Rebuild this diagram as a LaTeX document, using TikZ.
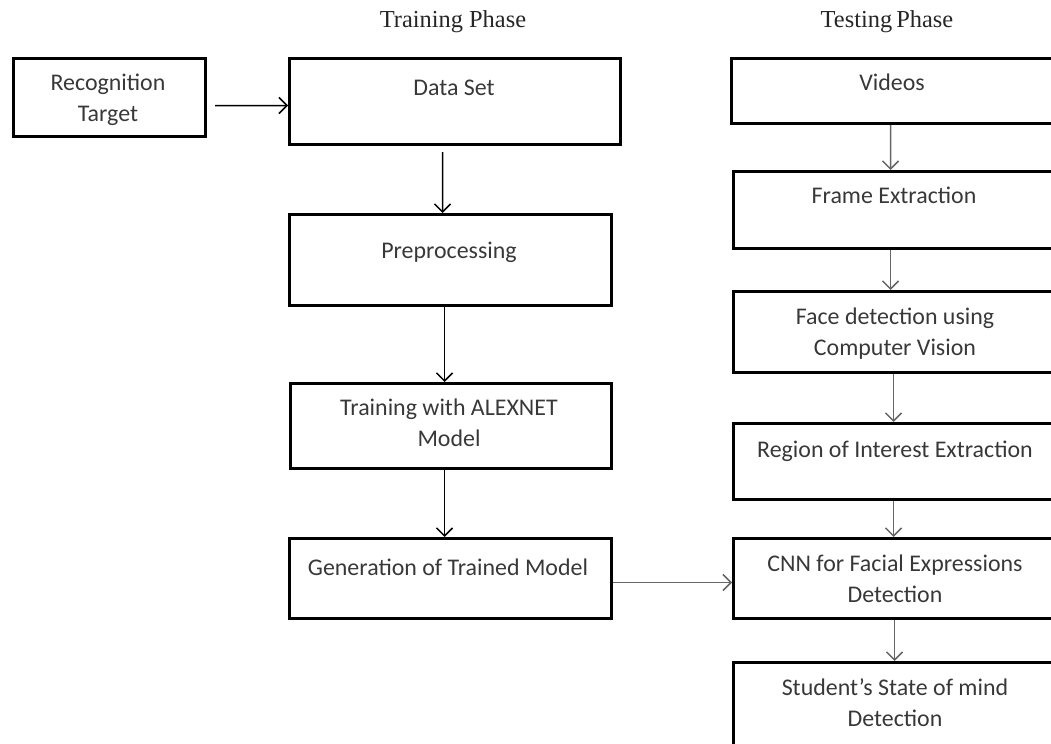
\documentclass[tikz,border=0pt]{standalone}
\usepackage{fontspec}
\setmainfont{Carlito}
\newfontfamily\titlefont{Liberation Serif}
\usetikzlibrary{arrows.meta,calc}
\begin{document}
\begin{tikzpicture}[x=1bp,y=-1bp,
  box/.style={draw=black, line width=3bp, rectangle, inner sep=0pt, anchor=north west},
  txt/.style={font=\fontsize{24}{31}\selectfont, text=black!78, align=center, inner sep=0pt},
  ttl/.style={font=\titlefont\fontsize{24.5}{28}\selectfont, text=black!85, inner sep=0pt, anchor=base},
  arr/.style={line width=1.5bp, draw=black, -{Straight Barb[length=8bp,width=16bp,line width=1.5bp]}},
  arrg/.style={arr, draw=black!60},
]
\useasboundingbox (0,0) rectangle (1051,744);
\clip (0,0) rectangle (1051,744);

% titles
\node[ttl] (ttrain) at (453,28) {Training Phase};
\node[ttl] (ttest) at (887,28) {Testing\,Phase};

% training column
\node[box, minimum width=192bp, minimum height=78bp] (rt) at (12,57) {};
\node[box, minimum width=331bp, minimum height=86bp] (ds) at (288,57) {};
\node[box, minimum width=322bp, minimum height=91bp] (pp) at (288,213) {};
\node[box, minimum width=321bp, minimum height=85bp] (tr) at (289,382) {};
\node[box, minimum width=322bp, minimum height=80bp] (gen) at (288,537) {};

% testing column
\node[box, minimum width=330bp, minimum height=65bp] (vid) at (730,57) {};
\node[box, minimum width=328bp, minimum height=77bp] (fe) at (732,170) {};
\node[box, minimum width=328bp, minimum height=81bp] (fd) at (732,290) {};
\node[box, minimum width=328bp, minimum height=76bp] (roi) at (732,422) {};
\node[box, minimum width=328bp, minimum height=80bp] (cnn) at (732,537) {};
\node[box, minimum width=328bp, minimum height=100bp] (st) at (732,661) {};

% texts
\node[txt] (trt) at (108,100) {Recognition\\Target};
\node[txt, anchor=base] (tds) at (454,96) {Data Set};
\node[txt, anchor=base] (tpp) at (449,258) {Preprocessing};
\node[txt] (ttr) at (449,423) {Training with ALEXNET\\Model};
\node[txt, anchor=base] (tgen) at (448,575) {Generation of Trained Model};
\node[txt, anchor=base] (tvid) at (892,91) {Videos};
\node[txt, anchor=base] (tfe) at (894,203) {Frame Extraction};
\node[txt] (tfd) at (895,334) {Face detection using\\Computer Vision};
\node[txt, anchor=base] (troi) at (895,457) {Region of Interest Extraction};
\node[txt] (tcnn) at (895,579) {CNN for Facial Expressions\\Detection};
\node[txt] (tst) at (895,703) {Student’s State of mind\\Detection};

% arrows
\draw[arr] ($(rt.east)+(8,8)$) -- ($(ds.west)+(0,4)$);
\draw[arr] ($(ds.south)+(-12.5,6)$) -- ($(pp.north)+(-8,0)$);
\draw[arr] ($(pp.south)+(-6,0)$) -- ($(tr.north)+(-6.5,0)$);
\draw[arr] ($(tr.south)+(-6.5,0)$) -- ($(gen.north)+(-6,0)$);
\draw[arrg] ($(gen.east)+(0,4)$) -- ($(cnn.west)+(0,4)$);
\draw[arrg] ($(vid.south)+(-6,0)$) -- ($(fe.north)+(-7,0)$);
\draw[arrg] ($(fe.south)+(-7,0)$) -- ($(fd.north)+(-7,0)$);
\draw[arrg] ($(fd.south)+(-4,0)$) -- ($(roi.north)+(-4,0)$);
\draw[arrg] ($(roi.south)+(-4,0)$) -- ($(cnn.north)+(-4,0)$);
\draw[arrg] ($(cnn.south)+(-3,0)$) -- ($(st.north)+(-3,0)$);
\end{tikzpicture}
\end{document}
